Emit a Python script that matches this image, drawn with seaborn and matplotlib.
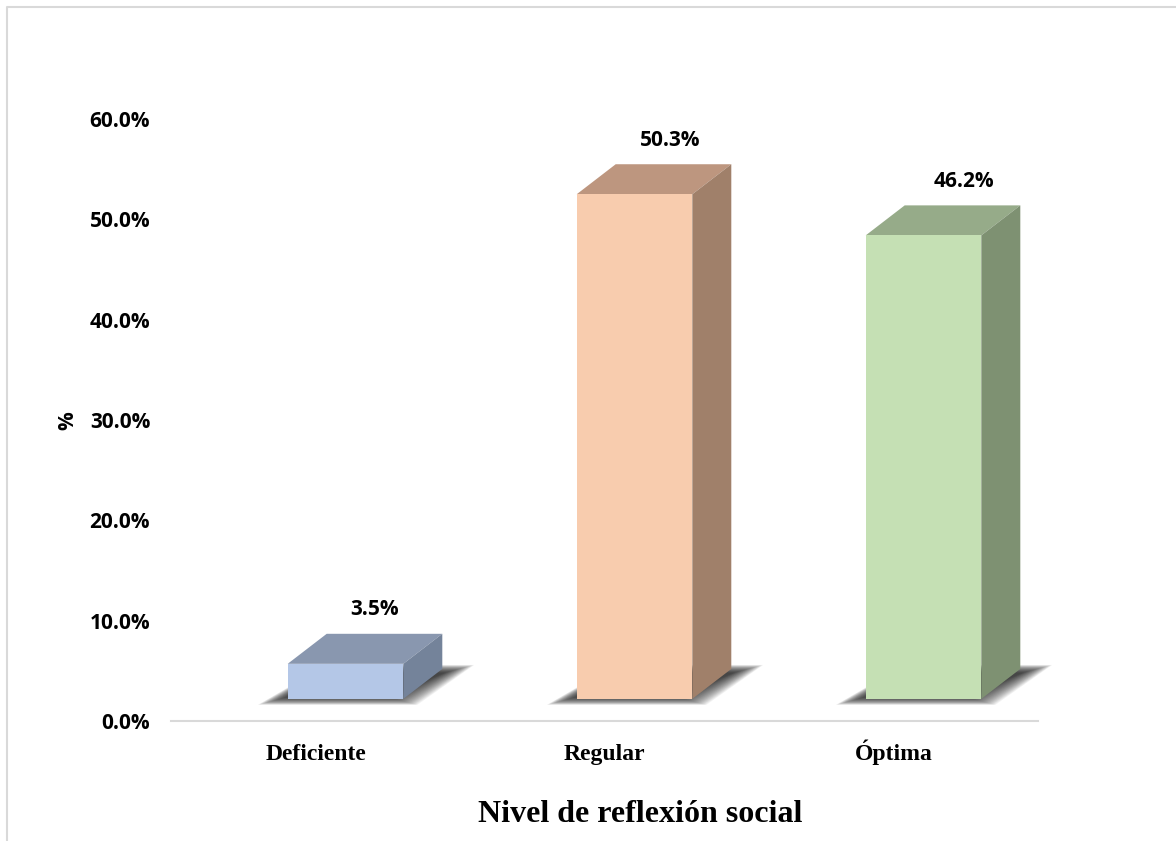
import matplotlib
matplotlib.use("Agg")
import matplotlib.pyplot as plt
from matplotlib.patches import Polygon
from matplotlib.lines import Line2D
import pandas as pd
import seaborn as sns

categories = ["Deficiente", "Regular", "Óptima"]
values = [3.5, 50.3, 46.2]
value_labels = ["3.5%", "50.3%", "46.2%"]
y_ticks = [0, 10, 20, 30, 40, 50, 60]
y_tick_labels = ["0.0%", "10.0%", "20.0%", "30.0%", "40.0%", "50.0%", "60.0%"]
front_colors = ["#B4C7E7", "#F8CCAE", "#C5E0B4"]
top_colors = ["#8997AF", "#BD967F", "#96AB89"]
side_colors = ["#74839A", "#A0806A", "#7E9172"]
label_shift_px = [29, 36, 40]

W, H = 1176, 841
SANS = "Open Sans"
SERIF = "Liberation Serif"
sns.set_theme(style="white")
fig = plt.figure(figsize=(W / 100, H / 100), dpi=100, facecolor="white")
ax = fig.add_axes([171 / W, 1 - 721 / H, 867 / W, 602 / H])

df = pd.DataFrame({"nivel": categories, "pct": values})
BASE = 2.2          # floor of the 3D box above the axis
sns.barplot(data=df, x="nivel", y="pct", hue="nivel", palette=front_colors, legend=False,
            width=0.4, bottom=BASE, saturation=1, ax=ax, zorder=4, linewidth=0)

ax.set_xlim(-0.5, 2.5)
ax.set_ylim(0, 60)
PX = 1 / 289        # one pixel in x units
PY = 1 / 10.03      # one pixel in y units
SHIFT = 30 * PX
DX, DY = 39 * PX, 30 * PY
for i, p in enumerate(ax.patches):
    p.set_x(p.get_x() + SHIFT)
    x0, x1 = p.get_x(), p.get_x() + p.get_width()
    y0, y1 = p.get_y(), p.get_y() + p.get_height()
    # blurred floor shadow: stacked translucent parallelograms
    n = 30
    for k in range(n):
        g = k / (n - 1)
        inset_x = 30 * PX * g
        inset_y = 8 * PY * g
        ax.add_patch(Polygon([(x0 - 30 * PX + inset_x, y0 - 6 * PY + inset_y),
                              (x1 + 14 * PX - inset_x, y0 - 6 * PY + inset_y),
                              (x1 + DX + 32 * PX - inset_x, y0 + DY + 4 * PY - inset_y),
                              (x0 + DX, y0 + DY + 4 * PY - inset_y)],
                             closed=True, facecolor="#202020", edgecolor="none",
                             alpha=0.05, zorder=2, clip_on=False))
    ax.add_patch(Polygon([(x0, y1), (x1, y1), (x1 + DX, y1 + DY), (x0 + DX, y1 + DY)],
                         closed=True, facecolor=top_colors[i], edgecolor="none", zorder=3))
    ax.add_patch(Polygon([(x1, y0), (x1 + DX, y0 + DY), (x1 + DX, y1 + DY), (x1, y1)],
                         closed=True, facecolor=side_colors[i], edgecolor="none", zorder=3))
    ax.text(0.5 * (x0 + x1) + label_shift_px[i] * PX, y1 + DY + 24 * PY, value_labels[i],
            ha="center", va="center", family=SANS, fontweight="bold", fontsize=15, color="black")

sns.despine(ax=ax, left=True, top=True, right=True)
ax.spines["bottom"].set_color("#D9D9D9")
ax.spines["bottom"].set_linewidth(1.5)
ax.set_yticks(y_ticks)
ax.set_yticklabels(y_tick_labels, family=SANS, fontweight="bold", fontsize=15, color="black")
ax.set_xticks(range(3))
ax.set_xticklabels(categories, family=SERIF, fontweight="bold", fontsize=17, color="black")
for t in ax.get_xticklabels():
    t.set_va("baseline")
ax.tick_params(axis="y", length=0, pad=15)
ax.tick_params(axis="x", length=0, pad=28)
ax.set_ylabel("%", family=SANS, fontweight="bold", fontsize=15, color="black")
ax.set_xlabel("Nivel de reflexión social", family=SERIF, fontweight="bold", fontsize=23, color="black")
ax.xaxis.set_label_coords((640 - 171) / 867, -(822 - 721) / 602, transform=ax.transAxes)
ax.xaxis.label.set_va("baseline")
ax.yaxis.set_label_coords((78 - 171) / 867, (721 - 421) / 602, transform=ax.transAxes)

fig.add_artist(Line2D([7 / W, 7 / W, 1], [0, 1 - 7 / H, 1 - 7 / H], color="#D9D9D9", lw=1.5))
fig.savefig("out.png", dpi=100, facecolor="white")
